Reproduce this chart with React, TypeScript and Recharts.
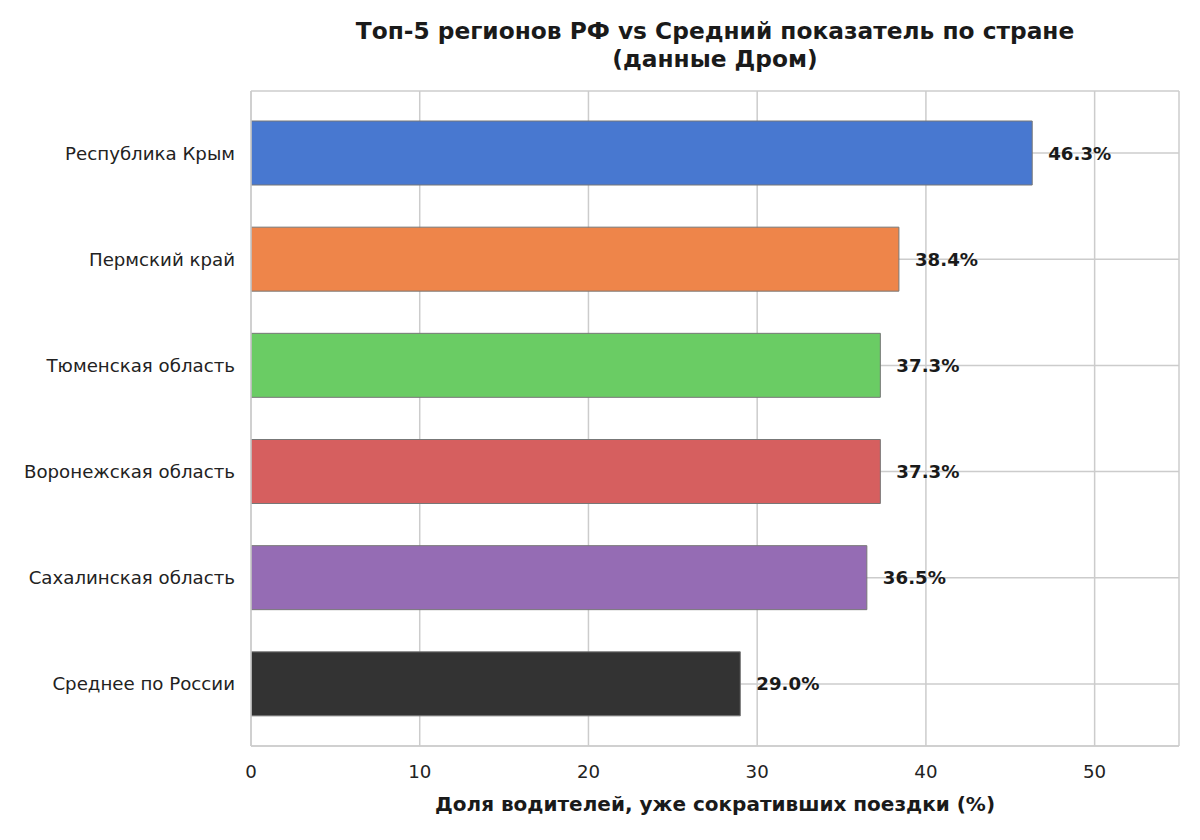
import { BarChart, Bar, XAxis, YAxis, CartesianGrid, Cell, LabelList } from "recharts";

const regions = [
  "Республика Крым",
  "Пермский край",
  "Тюменская область",
  "Воронежская область",
  "Сахалинская область",
  "Среднее по России",
];
const shares = [46.3, 38.4, 37.3, 37.3, 36.5, 29.0];
const colors = ["#4878d0", "#ee854a", "#6acc64", "#d65f5f", "#956cb4", "#333333"];
const xTicks = [0, 10, 20, 30, 40, 50];

const data = regions.map((name, i) => ({ name, value: shares[i] }));

const font = "'DejaVu Sans', sans-serif";

const ValueLabel = (props: any) => {
  const { x, y, width, height, value } = props;
  return (
    <text
      x={x + width + 16}
      y={y + height / 2}
      dominantBaseline="central"
      fontFamily={font}
      fontSize={18.2}
      fontWeight="bold"
      fill="#1a1a1a"
    >
      {value.toFixed(1)}%
    </text>
  );
};

const App = () => {
  return (
    <div style={{ position: "absolute", left: 0, top: 0, width: 1200, height: 840, background: "#fff" }}>
      <div
        style={{
          position: "absolute",
          left: 251,
          width: 928,
          top: 17,
          textAlign: "center",
          fontFamily: font,
          fontWeight: "bold",
          fontSize: 23.3,
          lineHeight: "28px",
          color: "#1a1a1a",
        }}
      >
        Топ-5 регионов РФ vs Средний показатель по стране
        <br />
        (данные Дром)
      </div>
      <BarChart
        width={1200}
        height={840}
        data={data}
        layout="vertical"
        margin={{ top: 91, right: 21, left: 16, bottom: 54 }}
      >
        <CartesianGrid stroke="#cccccc" strokeWidth={1.5} />
        <XAxis
          type="number"
          domain={[0, 55]}
          ticks={xTicks}
          allowDataOverflow
          height={40}
          tickLine={false}
          tickSize={0}
          tickMargin={19}
          axisLine={{ stroke: "#cccccc", strokeWidth: 1.5 }}
          tick={{ fontFamily: font, fontSize: 18.2, fill: "#222222" }}
        />
        <XAxis
          xAxisId="top"
          orientation="top"
          type="number"
          domain={[0, 55]}
          height={0}
          tick={false}
          tickLine={false}
          axisLine={{ stroke: "#cccccc", strokeWidth: 1.5 }}
        />
        <YAxis
          type="category"
          dataKey="name"
          width={235}
          padding={{ top: 9, bottom: 9 }}
          tickLine={false}
          tickSize={0}
          tickMargin={16}
          axisLine={{ stroke: "#cccccc", strokeWidth: 1.5 }}
          tick={{ fontFamily: font, fontSize: 18.2, fill: "#222222" }}
        />
        <YAxis
          yAxisId="right"
          orientation="right"
          type="number"
          domain={[0, 1]}
          width={0}
          tick={false}
          tickLine={false}
          axisLine={{ stroke: "#cccccc", strokeWidth: 1.5 }}
        />
        <Bar dataKey="value" barSize={64} stroke="#777777" strokeWidth={1} isAnimationActive={false}>
          {data.map((d, i) => (
            <Cell key={d.name} fill={colors[i]} />
          ))}
          <LabelList dataKey="value" content={ValueLabel} />
        </Bar>
      </BarChart>
      <div
        style={{
          position: "absolute",
          left: 251,
          width: 928,
          top: 792,
          textAlign: "center",
          fontFamily: font,
          fontWeight: "bold",
          fontSize: 20,
          color: "#1a1a1a",
        }}
      >
        Доля водителей, уже сокративших поездки (%)
      </div>
    </div>
  );
};

export default App;
